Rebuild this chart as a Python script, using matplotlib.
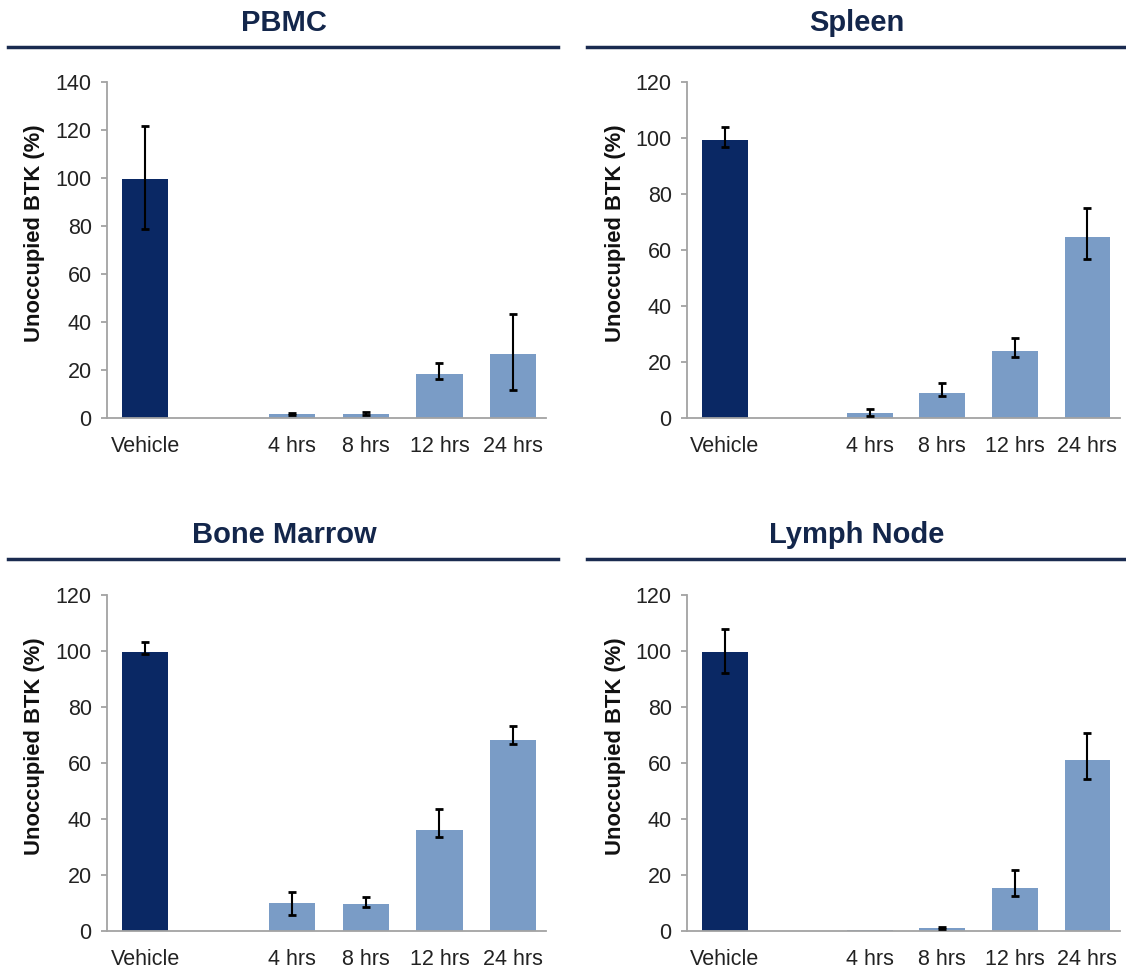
import matplotlib
matplotlib.use("Agg")
import matplotlib.pyplot as plt
from matplotlib.lines import Line2D
import numpy as np

plt.rcParams['font.family'] = ['Liberation Sans', 'DejaVu Sans']

# categories (an empty slot sits between Vehicle and the time points)
labels = ['Vehicle', '4 hrs', '8 hrs', '12 hrs', '24 hrs']
titles = ['PBMC', 'Spleen', 'Bone Marrow', 'Lymph Node']
ymax = [140, 120, 120, 120]

# mean values
pbmc = [99.4, 1.7, 1.8, 18.3, 26.7]
spleen = [99.4, 1.8, 9.0, 23.8, 64.8]
marrow = [99.6, 9.9, 9.5, 36.1, 68.2]
lymph = [99.5, 0.4, 1.0, 15.3, 61.0]

# error bar ends (low, high)
pbmc_lo = [78.9, 1.3, 1.4, 16.2, 11.7]
pbmc_hi = [121.7, 2.1, 2.3, 22.9, 43.3]
spleen_lo = [96.8, 0.6, 7.7, 21.8, 56.7]
spleen_hi = [103.8, 3.3, 12.6, 28.6, 75.1]
marrow_lo = [98.9, 5.7, 8.5, 33.7, 66.8]
marrow_hi = [103.1, 14.0, 12.3, 43.5, 73.2]
lymph_lo = [92.0, 0.4, 0.8, 12.5, 54.2]
lymph_hi = [107.9, 0.4, 1.4, 21.8, 70.6]

means = [pbmc, spleen, marrow, lymph]
lows = [pbmc_lo, spleen_lo, marrow_lo, lymph_lo]
highs = [pbmc_hi, spleen_hi, marrow_hi, lymph_hi]

navy = '#0a2864'
light = '#7a9cc6'
title_col = '#13264b'
axis_col = '#a3a3a3'

W, H = 1126, 969
fig = plt.figure(figsize=(W / 100, H / 100), dpi=100)

# axes boxes in pixels: left, top, right, bottom
boxes = [(107, 82, 546, 418), (687, 82, 1120, 418),
         (107, 595, 546, 931), (687, 595, 1120, 931)]
xpos = [0, 2, 3, 4, 5]

for i in range(4):
  l, t, r, b = boxes[i]
  ax = fig.add_axes([l / W, 1 - b / H, (r - l) / W, (b - t) / H])
  m = np.array(means[i])
  lo = m - np.array(lows[i])
  hi = np.array(highs[i]) - m
  cols = [navy] + [light] * 4
  ax.bar(xpos, m, width=0.63, color=cols, zorder=2)
  # skip error bars too small to show
  keep = (lo + hi) > 0.01
  ax.errorbar(np.array(xpos)[keep], m[keep], yerr=[lo[keep], hi[keep]], fmt='none',
              ecolor='black', elinewidth=1.5, capsize=3, capthick=2, zorder=3)
  ax.set_xlim(-0.52, 5.45)
  ax.set_ylim(0, ymax[i])
  ax.set_yticks(np.arange(0, ymax[i] + 1, 20))
  ax.set_xticks(xpos)
  ax.set_xticklabels(labels)
  for s in ['top', 'right']:
    ax.spines[s].set_visible(False)
  for s in ['left', 'bottom']:
    ax.spines[s].set_color(axis_col)
    ax.spines[s].set_linewidth(1.3)
  ax.tick_params(axis='y', length=4, width=1.3, color=axis_col, labelsize=15.5,
                 labelcolor='#222222', pad=7)
  ax.tick_params(axis='x', length=0, labelsize=15.5, labelcolor='#222222', pad=13)
  ax.set_ylabel('Unoccupied BTK (%)', fontsize=15.8, fontweight='bold', color='#111111')
  ax.yaxis.label.set_va('center')
  ax.yaxis.set_label_coords(-0.165, 0.55)

# titles with rules underneath
title_x = [284, 857, 284, 857]
title_base = [31, 31, 543, 543]
rule_y = [47, 47, 559, 559]
rule_x = [(8, 558), (587, 1126), (8, 558), (587, 1126)]
for i in range(4):
  fig.text(title_x[i] / W, 1 - title_base[i] / H, titles[i], ha='center', va='baseline',
           fontsize=21, fontweight='bold', color=title_col)
  x0, x1 = rule_x[i]
  fig.add_artist(Line2D([x0 / W, x1 / W], [1 - rule_y[i] / H] * 2, color='#1a2b50', lw=2.5))

fig.savefig('out.png', dpi=100)
